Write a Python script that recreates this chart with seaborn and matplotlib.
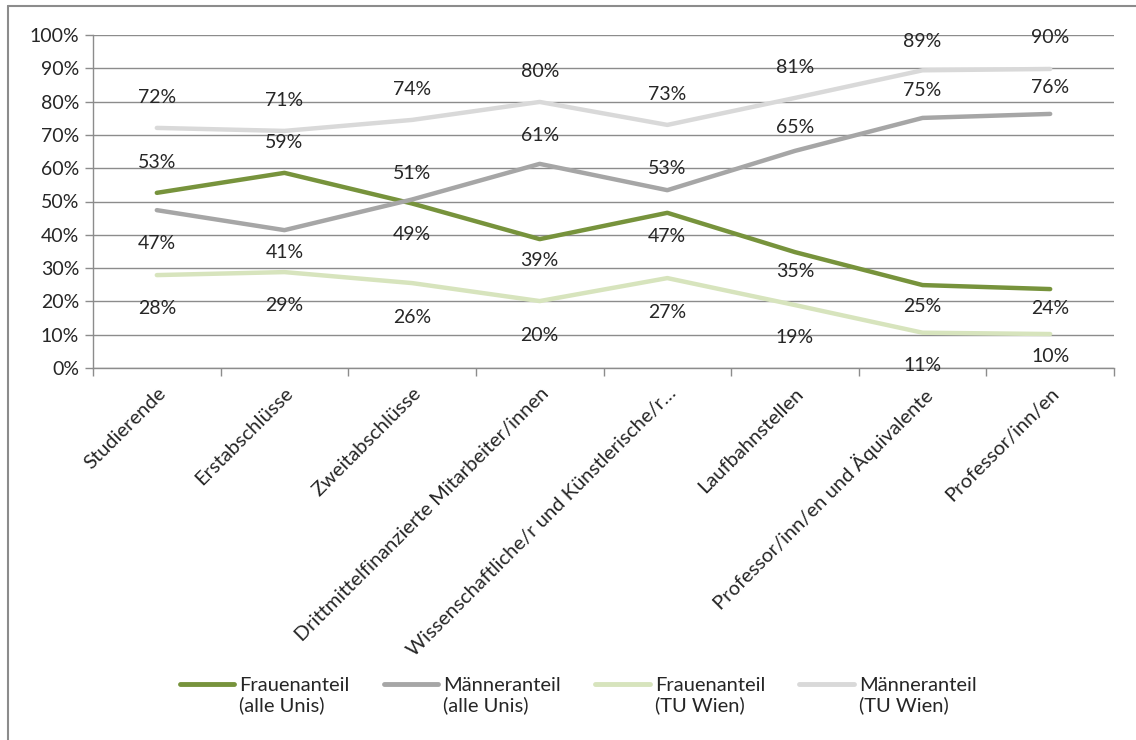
import matplotlib
matplotlib.use("Agg")
import matplotlib.pyplot as plt
import seaborn as sns
import pandas as pd
from matplotlib.lines import Line2D
from matplotlib.legend_handler import HandlerLine2D
from matplotlib.ticker import FixedLocator, FuncFormatter

categories = ["Studierende", "Erstabschlüsse", "Zweitabschlüsse",
              "Drittmittelfinanzierte Mitarbeiter/innen",
              "Wissenschaftliche/r und Künstlerische/r…",
              "Laufbahnstellen", "Professor/inn/en und Äquivalente",
              "Professor/inn/en"]
series_names = ["Frauenanteil\n(alle Unis)", "Männeranteil\n(alle Unis)",
                "Frauenanteil\n(TU Wien)", "Männeranteil\n(TU Wien)"]
frauen_alle = [52.6, 58.6, 49.4, 38.7, 46.6, 34.8, 24.9, 23.7]
maenner_alle = [47.4, 41.4, 50.6, 61.3, 53.4, 65.2, 75.1, 76.3]
frauen_tu = [27.9, 28.8, 25.5, 20.1, 27.0, 18.9, 10.6, 10.2]
maenner_tu = [72.1, 71.2, 74.5, 79.9, 73.0, 81.1, 89.4, 89.8]
y_ticks = [0, 10, 20, 30, 40, 50, 60, 70, 80, 90, 100]

colors = ["#77933C", "#A6A6A6", "#D7E4BD", "#D9D9D9"]
# label offsets in pixels (positive = below the line)
label_offsets = [
    [-30, -30, 31, 21, 24, 19, 21, 19],
    [33, 22, -26, -28, -22, -23, -27, -26],
    [33, 33, 34, 34, 34, 32, 33, 22],
    [-30, -30, -30, -30, -30, -30, -29, -31],
]

all_values = [frauen_alle, maenner_alle, frauen_tu, maenner_tu]
df = pd.DataFrame({
    "Kategorie": categories * 4,
    "Anteil": sum(all_values, []),
    "Serie": [s for s in series_names for _ in categories],
})

sns.set_style("white")
plt.rcParams["font.family"] = ["Lato", "DejaVu Sans"]
text_color = "#262626"
fs = 14
fs_big = 14.5


class UpHandler(HandlerLine2D):
    """Legend line aligned with the first text line."""
    def create_artists(self, legend, orig_handle, xdescent, ydescent, width, height,
                       fontsize, trans):
        arts = super().create_artists(legend, orig_handle, xdescent, ydescent, width,
                                      height, fontsize, trans)
        for a in arts:
            a.set_ydata([y + 8.5 for y in a.get_ydata()])
        return arts


fig = plt.figure(figsize=(11.36, 7.40), dpi=100)
ax = fig.add_axes([93 / 1136, 1 - 368 / 740, (1114 - 93) / 1136, (368 - 35) / 740])

sns.lineplot(data=df, x="Kategorie", y="Anteil", hue="Serie", hue_order=series_names,
             palette=colors, linewidth=3.2, sort=False, ax=ax, legend=False,
             solid_capstyle="round", solid_joinstyle="round")

ax.set_xlim(-0.5, len(categories) - 0.5)
ax.set_ylim(0, 100)
ax.set_xlabel("")
ax.set_ylabel("")

ax.yaxis.set_major_locator(FixedLocator(y_ticks))
ax.yaxis.set_major_formatter(FuncFormatter(lambda v, p: f"{v:.0f}%"))
ax.grid(axis="y", color="#8C8C8C", linewidth=1.0)
ax.grid(axis="x", visible=False)
ax.set_axisbelow(True)
for side in ["top", "right"]:
    ax.spines[side].set_visible(False)
for side in ["left", "bottom"]:
    ax.spines[side].set_color("#8C8C8C")
    ax.spines[side].set_linewidth(1.0)

ax.tick_params(axis="y", which="major", length=6, width=1, color="#8C8C8C",
               labelsize=fs, labelcolor=text_color, pad=4, left=True)
ax.set_xticks(range(len(categories)))
ax.set_xticklabels(categories, rotation=45, ha="right", rotation_mode="anchor",
                   fontsize=fs_big, color=text_color)
ax.tick_params(axis="x", which="major", length=0, pad=12)
ax.set_xticks([i - 0.5 for i in range(len(categories) + 1)], minor=True)
ax.tick_params(axis="x", which="minor", length=6, width=1, color="#8C8C8C", bottom=True)

for vals, offs in zip(all_values, label_offsets):
    for i, (v, o) in enumerate(zip(vals, offs)):
        ax.annotate(f"{v:.0f}%", xy=(i, v), xytext=(0, -o * 0.72),
                    textcoords="offset points", ha="center", va="center",
                    fontsize=fs, color=text_color, annotation_clip=False)

handles = [Line2D([0], [0], color=c, linewidth=3.5) for c in colors]
fig.legend(handles, series_names, loc="center", bbox_to_anchor=(0.509, 1 - 695.5 / 740),
           ncol=4, frameon=False, fontsize=fs_big, handlelength=2.7, handletextpad=0.25,
           columnspacing=1.7, labelcolor=text_color,
           handler_map={Line2D: UpHandler()})

# outer chart border (left and top visible)
fig.add_artist(Line2D([8 / 1136, 8 / 1136], [0, 1 - 6 / 740], transform=fig.transFigure,
                      color="#8C8C8C", linewidth=1.5))
fig.add_artist(Line2D([8 / 1136, 1], [1 - 6 / 740, 1 - 6 / 740], transform=fig.transFigure,
                      color="#8C8C8C", linewidth=1.5))

fig.savefig("out.png", dpi=100)
